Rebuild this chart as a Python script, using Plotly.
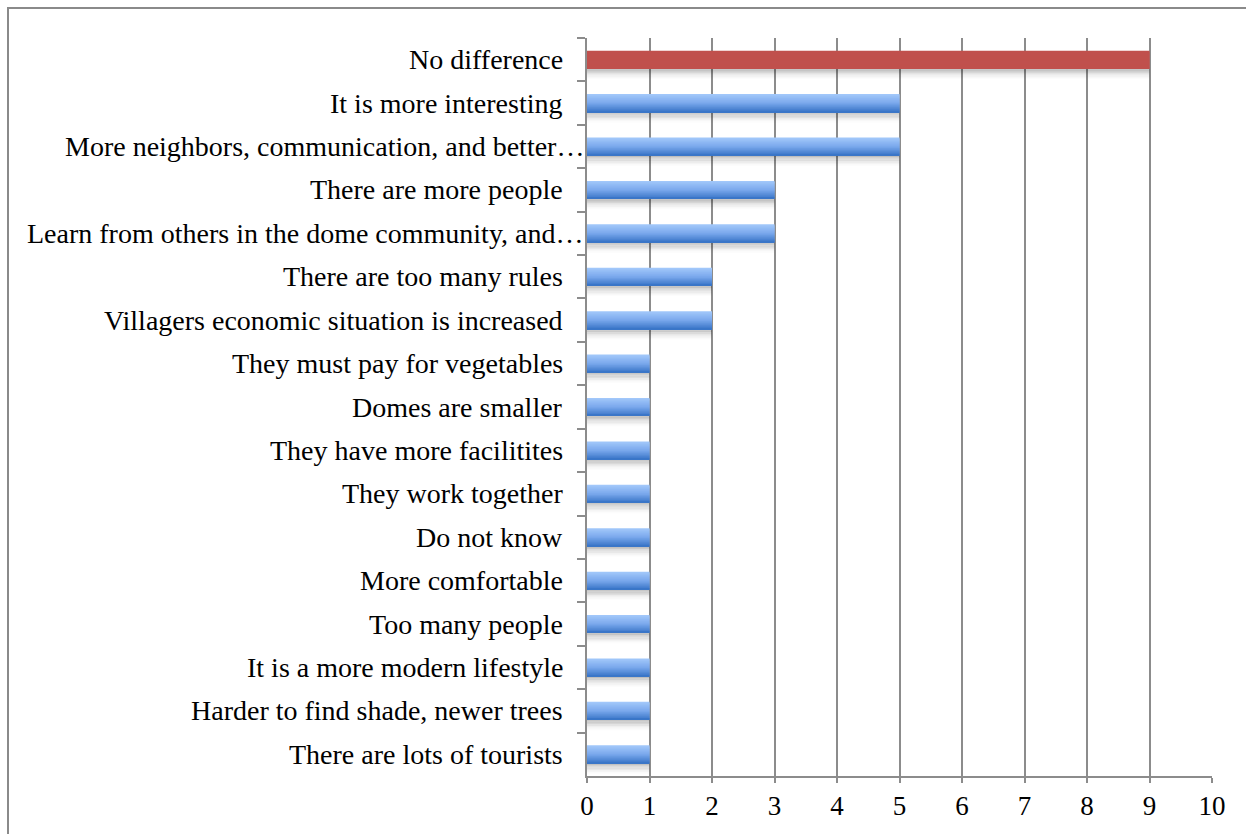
import plotly.graph_objects as go

# Survey responses: what is different about life in the dome village
categories = [
    "No difference",
    "It is more interesting",
    "More neighbors, communication, and better…",
    "There are more people",
    "Learn from others in the dome community, and…",
    "There are too many rules",
    "Villagers economic situation is increased",
    "They must pay for vegetables",
    "Domes are smaller",
    "They have more facilitites",
    "They work together",
    "Do not know",
    "More comfortable",
    "Too many people",
    "It is a more modern lifestyle",
    "Harder to find shade, newer trees",
    "There are lots of tourists",
]
counts = [9, 5, 5, 3, 3, 2, 2, 1, 1, 1, 1, 1, 1, 1, 1, 1, 1]
highlight = ["No difference"]
x_ticks = list(range(0, 11))

FONT = "Liberation Serif"
GRID = "#8c8c8c"
RED = "#c0504d"

BAR_W = 0.415      # bar thickness in category units
N_STRIPES = 16     # vertical gradient resolution
SHADOW_H = 0.24
N_SHADOW = 8


def lerp(c0, c1, t):
    return tuple(round(a + (b - a) * t) for a, b in zip(c0, c1))


def blue_at(t):
    top, mid, bot = (161, 199, 250), (122, 168, 236), (58, 118, 200)
    if t < 0.5:
        c = lerp(top, mid, t / 0.5)
    else:
        c = lerp(mid, bot, (t - 0.5) / 0.5)
    return "rgb(%d,%d,%d)" % c


fig = go.Figure()

# soft drop shadow under each bar
sh = SHADOW_H / N_SHADOW
for i in range(N_SHADOW):
    a = 0.22 * (1 - i / N_SHADOW) ** 1.5
    fig.add_trace(go.Bar(
        x=counts, y=categories, orientation="h",
        width=sh * 1.1, offset=BAR_W / 2 + i * sh,
        marker=dict(color="rgba(0,0,0,%.3f)" % a, line=dict(width=0)),
        hoverinfo="skip", showlegend=False,
    ))

# bars drawn as overlapping horizontal stripes to give the shaded look
w = BAR_W / N_STRIPES
for i in range(N_STRIPES):
    t = i / (N_STRIPES - 1)
    colors = [RED if c in highlight else blue_at(t) for c in categories]
    last = i == N_STRIPES - 1
    fig.add_trace(go.Bar(
        x=counts, y=categories, orientation="h",
        width=w if last else w * 2.0, offset=-BAR_W / 2 + i * w,
        marker=dict(color=colors, line=dict(width=0)),
        hoverinfo="skip", showlegend=False,
    ))

# category labels, right-aligned against the axis
for c in categories:
    shift = -1 if c.endswith("…") else -22
    fig.add_annotation(
        x=0, xref="paper", xanchor="right", xshift=shift,
        y=c, yref="y", yanchor="middle",
        text=c, showarrow=False,
        font=dict(family=FONT, size=28, color="#000000"),
    )

# outer chart frame
fig.add_shape(
    type="rect", xref="paper", yref="paper",
    x0=-0.9264, x1=1.07, y0=-0.09, y1=1.0407,
    line=dict(color="#8a8a8a", width=2), fillcolor="rgba(0,0,0,0)",
    layer="below",
)

fig.update_layout(
    width=1246, height=834,
    margin=dict(l=587, r=34, t=38, b=58),
    paper_bgcolor="white", plot_bgcolor="white",
    barmode="overlay",
    showlegend=False,
    xaxis=dict(
        range=[0, 10], tickvals=x_ticks, ticktext=[str(v) for v in x_ticks],
        showgrid=True, gridcolor=GRID, gridwidth=2,
        showline=True, linecolor=GRID, linewidth=2,
        ticks="outside", ticklen=5, tickwidth=2, tickcolor=GRID,
        tickfont=dict(family=FONT, size=27, color="#000000"),
        zeroline=False, fixedrange=True,
    ),
    yaxis=dict(
        type="category", categoryorder="array", categoryarray=categories,
        autorange="reversed",
        showticklabels=False,
        showline=True, linecolor=GRID, linewidth=2,
        ticks="outside", ticklen=8, tickwidth=2, tickcolor=GRID,
        tickson="boundaries",
        showgrid=False, zeroline=False, fixedrange=True,
    ),
)

fig.write_html("out.html")
